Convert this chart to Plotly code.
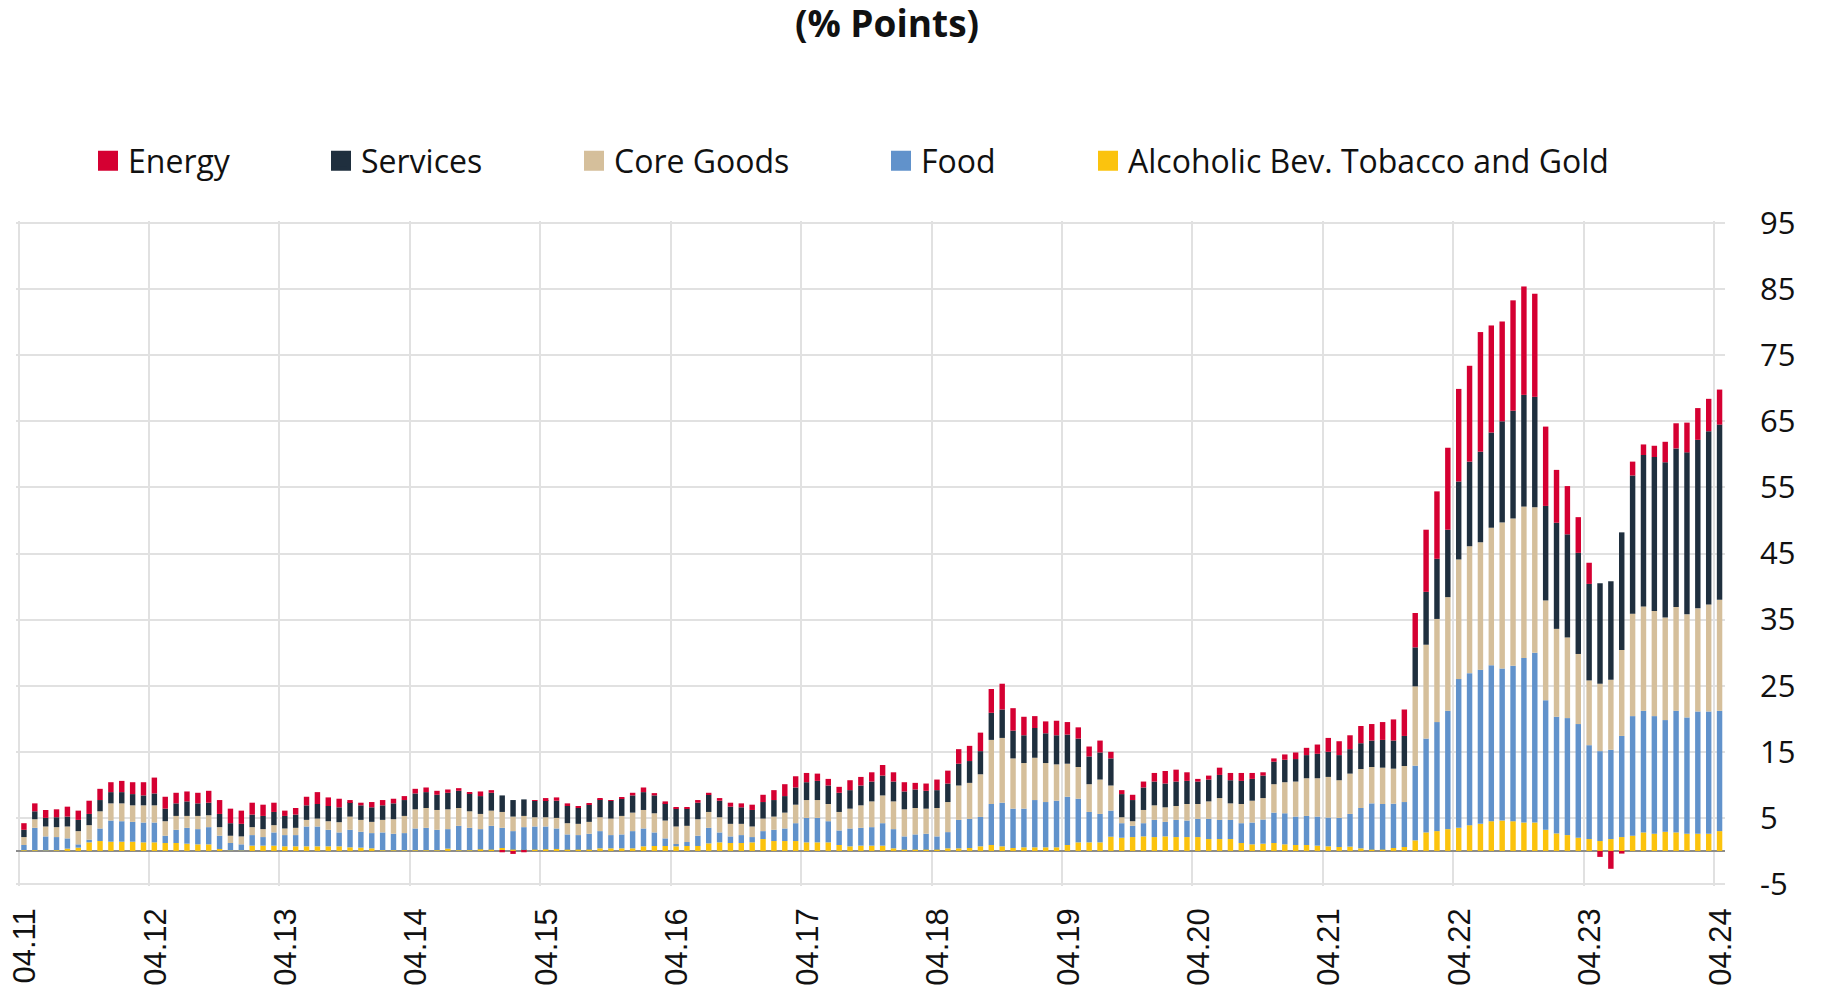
import plotly.graph_objects as go

# ---- data (monthly, 04.2011 .. 04.2024), contributions in % points ----
tick_labels = ["04.11", "04.12", "04.13", "04.14", "04.15", "04.16", "04.17",
               "04.18", "04.19", "04.20", "04.21", "04.22", "04.23", "04.24"]

alc = [0.1, 0.1, 0.05, 0.1, 0.35, 0.5, 1.3, 1.5, 1.4, 1.4,
       1.4, 1.3, 1.3, 1.2, 1.2, 1.1, 1.0, 1.0, 0.3, 0.05,
       0.05, 0.8, 0.8, 0.8, 0.7, 0.7, 0.7, 0.7, 0.7, 0.7,
       0.55, 0.5, 0.4, 0.1, 0.1, 0.1, 0.1, 0.1, 0.1, 0.35,
       0.1, 0.1, 0.25, 0.2, 0.45, 0.2, 0.15, 0.2, 0.25, 0.3,
       0.2, 0.2, 0.2, 0.4, 0.4, 0.4, 0.4, 0.7, 0.75, 0.75,
       0.7, 0.75, 0.75, 1.15, 1.3, 1.2, 1.2, 1.3, 1.8, 1.5,
       1.5, 1.5, 1.3, 1.3, 1.3, 0.9, 0.7, 0.8, 0.8, 0.8,
       0.4, 0.2, 0.2, 0.2, 0.2, 0.4, 0.4, 0.45, 0.7, 0.9,
       0.7, 0.45, 0.55, 0.55, 0.55, 0.55, 0.9, 1.3, 1.3, 1.3,
       2.15, 2.0, 2.1, 2.2, 2.1, 2.2, 2.1, 2.1, 2.1, 1.8,
       1.8, 1.8, 1.2, 1.0, 1.1, 1.2, 1.0, 0.9, 0.9, 0.8,
       0.7, 0.6, 0.65, 0.4, 0.2, 0.2, 0.45, 0.6, 1.6, 2.8,
       3.0, 3.3, 3.5, 3.9, 4.1, 4.5, 4.6, 4.5, 4.3, 4.3,
       3.2, 2.65, 2.4, 2.0, 1.8, 1.5, 1.8, 2.1, 2.3, 2.8,
       2.6, 2.9, 2.8, 2.6, 2.6, 2.6, 3.0]

food = [0.8, 3.4, 2.15, 2.0, 1.55, 0.5, 0.4, 1.9, 3.2, 3.1,
        3.0, 3.0, 3.0, 1.1, 2.0, 2.4, 2.3, 2.6, 2.0, 1.15,
        0.95, 1.6, 1.3, 2.0, 1.7, 1.7, 3.0, 3.0, 2.5, 2.1,
        2.65, 2.4, 2.3, 2.7, 2.5, 2.6, 3.3, 3.4, 3.1, 2.95,
        3.7, 3.4, 3.05, 3.6, 3.05, 2.8, 3.45, 3.5, 3.45, 3.1,
        2.3, 2.2, 2.4, 2.6, 2.0, 2.1, 2.6, 2.7, 2.05, 1.15,
        0.35, 0.6, 1.55, 2.35, 1.5, 1.0, 1.2, 0.8, 1.2, 1.7,
        1.9, 2.7, 3.7, 3.7, 3.2, 2.2, 2.7, 2.7, 2.8, 3.4,
        2.9, 2.0, 2.3, 2.4, 2.0, 2.45, 4.3, 4.4, 4.45, 6.2,
        6.6, 5.95, 5.85, 7.15, 6.85, 7.05, 7.3, 6.6, 4.6, 4.3,
        3.95, 2.2, 1.7, 2.0, 2.6, 2.2, 2.6, 2.5, 2.75, 3.05,
        2.9, 2.9, 3.0, 3.3, 3.65, 4.6, 4.7, 4.3, 4.4, 4.4,
        4.35, 4.4, 4.95, 6.1, 7.0, 6.9, 6.7, 6.8, 11.3, 14.2,
        16.5, 17.9, 22.5, 23.0, 23.3, 23.6, 23.0, 23.5, 24.9, 25.7,
        19.6, 17.65, 17.7, 17.2, 14.2, 13.6, 13.5, 15.3, 18.1, 18.4,
        17.8, 16.9, 18.4, 17.6, 18.5, 18.5, 18.2]

core_goods = [1.2, 1.3, 1.5, 1.5, 1.8, 2.0, 2.2, 2.6, 2.6, 2.7,
              2.5, 2.6, 2.6, 2.2, 2.1, 1.8, 2.0, 1.8, 1.3, 1.1,
              1.2, 1.2, 1.2, 1.1, 1.0, 1.1, 1.0, 1.2, 1.3, 1.55,
              2.0, 1.8, 1.7, 1.9, 2.2, 2.6, 2.9, 3.0, 3.0, 3.0,
              2.7, 2.5, 2.3, 2.3, 2.4, 2.2, 1.7, 1.4, 1.4, 1.6,
              1.7, 1.7, 1.8, 2.1, 2.5, 2.8, 2.8, 2.8, 2.9, 2.7,
              2.65, 2.45, 2.5, 2.4, 2.3, 1.9, 1.7, 1.6, 1.9, 2.0,
              2.4, 2.8, 2.7, 2.7, 2.6, 2.8, 3.0, 3.4, 3.9, 4.2,
              4.2, 4.1, 4.0, 3.8, 4.3, 4.55, 5.2, 5.45, 6.45, 9.7,
              9.8, 7.6, 6.9, 6.4, 5.9, 5.5, 5.0, 4.8, 4.2, 5.2,
              3.8, 0.9, 0.7, 2.0, 2.2, 2.2, 2.1, 2.5, 2.25, 2.65,
              3.3, 2.5, 2.9, 3.3, 3.25, 4.3, 4.7, 5.3, 5.7, 5.8,
              6.15, 5.7, 6.1, 5.9, 5.5, 5.5, 5.3, 5.45, 12.0, 14.2,
              15.6, 17.2, 18.1, 19.2, 19.3, 20.8, 22.1, 22.3, 22.9, 22.0,
              15.1, 13.3, 12.2, 10.6, 9.8, 10.2, 10.6, 13.0, 15.5, 15.8,
              15.9, 15.5, 15.7, 15.6, 15.6, 16.2, 16.8]

services = [1.1, 1.2, 1.3, 1.5, 1.5, 1.7, 1.7, 1.7, 1.7, 1.7,
            1.7, 1.5, 1.8, 1.9, 1.9, 2.2, 1.9, 1.9, 2.0, 1.9,
            1.9, 1.9, 2.0, 2.0, 1.9, 2.0, 2.2, 2.2, 2.3, 2.25,
            2.2, 2.2, 2.2, 2.2, 2.4, 2.4, 2.4, 2.4, 2.3, 2.5,
            2.6, 2.7, 2.7, 2.7, 2.5, 2.5, 2.5, 2.5, 2.6, 2.6,
            2.6, 2.4, 2.6, 2.7, 2.7, 2.6, 2.6, 2.7, 2.7, 2.6,
            2.7, 2.6, 2.5, 2.6, 2.5, 2.6, 2.5, 2.5, 2.5, 2.5,
            2.5, 2.6, 2.7, 2.9, 2.8, 2.9, 2.8, 3.0, 3.0, 3.0,
            3.0, 2.7, 2.8, 2.7, 2.7, 2.8, 3.3, 3.3, 3.5, 4.1,
            4.3, 4.2, 4.2, 4.5, 4.5, 4.4, 4.4, 4.3, 4.2, 4.1,
            4.1, 3.5, 3.2, 3.4, 3.6, 3.6, 3.7, 3.5, 3.4, 3.3,
            3.5, 3.5, 3.5, 3.3, 3.4, 3.4, 3.4, 3.4, 3.5, 3.7,
            3.8, 3.8, 3.7, 3.9, 4.0, 4.2, 4.25, 4.55, 5.9, 8.0,
            9.1, 10.2, 11.8, 12.8, 13.7, 14.4, 15.3, 16.3, 16.9, 16.7,
            14.3, 16.05, 15.6, 15.3, 14.6, 15.2, 14.9, 17.8, 20.9, 22.9,
            23.3, 23.5, 24.0, 24.5, 25.5, 26.2, 26.5]

energy = [1.0, 1.2, 1.2, 1.2, 1.5, 1.4, 2.0, 1.7, 1.5, 1.7,
          1.8, 2.0, 2.4, 1.8, 1.6, 1.5, 1.6, 1.8, 2.1, 2.2,
          2.0, 1.8, 1.7, 1.4, 0.8, 1.0, 1.3, 1.8, 1.3, 1.3,
          0.3, 0.4, 0.8, 0.8, 0.7, 0.6, 0.7, 0.7, 0.6, 0.5,
          0.4, 0.2, 0.7, 0.4, -0.2, -0.45, -0.2, 0.1, 0.3, 0.5,
          0.4, 0.3, 0.2, 0.2, 0.05, 0.2, 0.4, 0.7, 0.35, 0.3,
          0.2, 0.2, 0.4, 0.3, 0.4, 0.6, 0.6, 0.8, 1.1, 1.5,
          1.8, 1.7, 1.4, 1.1, 1.0, 0.9, 1.5, 1.3, 1.4, 1.6,
          1.4, 1.4, 1.0, 1.1, 1.6, 1.95, 2.2, 2.3, 2.8, 3.6,
          3.9, 3.4, 2.8, 1.8, 1.8, 2.2, 1.9, 1.7, 1.5, 1.8,
          1.0, 0.6, 0.8, 0.9, 1.3, 1.9, 1.8, 1.3, 0.4, 0.6,
          1.1, 1.1, 1.2, 0.9, 0.5, 0.5, 0.8, 1.0, 1.1, 1.4,
          2.1, 2.1, 2.1, 2.6, 2.5, 2.7, 3.2, 4.0, 5.2, 9.4,
          10.2, 12.4, 14.0, 14.5, 18.1, 16.2, 15.1, 16.7, 16.4, 15.6,
          12.0, 8.0, 7.3, 5.4, 3.2, -0.9, -2.7, -0.4, 2.1, 1.6,
          1.7, 3.1, 3.8, 4.5, 4.8, 4.9, 5.3]

y_ticks = [-5, 5, 15, 25, 35, 45, 55, 65, 75, 85, 95]

# ---- styling ----
OFF = 8                      # default page (body) margin of the html page
W, H = 1831 - OFF, 992 - OFF  # figure size so that the page fills the window
C_ALC = "#FBC30E"
C_FOOD = "#6192CB"
C_CORE = "#D5BF9B"
C_SERV = "#1F2F3E"
C_ENERGY = "#D50032"
GRID = "#E1E1E1"
TEXT_FONT = "Open Sans"

n = len(alc)
x = list(range(n))

series = [
    ("Alcoholic Bev. Tobacco and Gold", alc, C_ALC, "legend5"),
    ("Food", food, C_FOOD, "legend4"),
    ("Core Goods", core_goods, C_CORE, "legend3"),
    ("Services", services, C_SERV, "legend2"),
    ("Energy", energy, C_ENERGY, "legend"),
]

fig = go.Figure()
for name, vals, color, _ in series:
    fig.add_trace(go.Bar(x=x, y=vals, name=name, marker_color=color,
                         marker_line_width=0, showlegend=False))

# legend entries (one legend per item, to reproduce the spacing)
legend_text_x = {"legend": 128, "legend2": 361, "legend3": 614,
                 "legend4": 921, "legend5": 1128}
for name, vals, color, lg in series:
    fig.add_trace(go.Scatter(x=[None], y=[None], mode="markers", name=name,
                             marker=dict(symbol="square", size=16, color=color,
                                         line=dict(width=4, color=color)),
                             legend=lg, showlegend=True, hoverinfo="skip"))

legend_common = dict(orientation="h", xref="container", yref="container",
                     xanchor="left", yanchor="middle", y=1 - (161 - OFF) / H,
                     bgcolor="rgba(0,0,0,0)", borderwidth=0,
                     font=dict(family=TEXT_FONT, size=32, color="#111111"),
                     itemwidth=30)
for lg, tx in legend_text_x.items():
    fig.update_layout({lg: dict(legend_common, x=(tx - 40 - OFF) / W)})

# plot area (window pixels): first category edge at x=18, last at 1725,
# 95 at y=223, -5 at y=884; ranges are padded by ~2px so edge gridlines show
slot = (1725 - 18) / n
pad_x = 2.5 / slot
px_per_unit = (884 - 223) / 100.0
pad_y = 2.0 / px_per_unit
plot_left = 18 - OFF - 2.5
plot_right = 1725 - OFF
plot_top = 223 - OFF - 2.0
plot_bottom = 884 - OFF + 2.0

fig.update_layout(
    width=W, height=H,
    paper_bgcolor="white", plot_bgcolor="white",
    barmode="relative", bargap=0.5,
    margin=dict(l=plot_left, r=W - plot_right, t=plot_top, b=H - plot_bottom,
                pad=0, autoexpand=False),
    title=dict(text="<b>(% Points)</b>", xref="container", yref="container",
               x=(887 - OFF) / W, y=1 - (24 - OFF) / H, xanchor="center", yanchor="middle",
               font=dict(family=TEXT_FONT, size=37, color="#111111")),
    xaxis=dict(range=[-0.5 - pad_x, n - 0.5], tickmode="array",
               tickvals=[12 * k + 0.1 for k in range(len(tick_labels))],
               ticktext=tick_labels, tickangle=-90, ticks="",
               ticklabelstandoff=15, ticklabeloverflow="allow", automargin=False,
               tickfont=dict(family="Liberation Sans", size=31, color="#111111"),
               showgrid=False, zeroline=False, showline=False,
               minor=dict(tickmode="array",
                          tickvals=[12 * k - 0.5 for k in range(len(tick_labels))],
                          showgrid=True, gridcolor=GRID, gridwidth=1.5, ticks="")),
    yaxis=dict(side="right", range=[-5 - pad_y, 95 + pad_y], tickmode="array",
               tickvals=y_ticks, ticktext=[str(v) for v in y_ticks], ticks="",
               ticklabelstandoff=34, ticklabeloverflow="allow", automargin=False,
               tickfont=dict(family=TEXT_FONT, size=31, color="#111111"),
               showgrid=True, gridcolor=GRID, gridwidth=1.5,
               zeroline=True, zerolinecolor="#8C8C8C", zerolinewidth=2,
               showline=False),
)

fig.write_html("out.html")
